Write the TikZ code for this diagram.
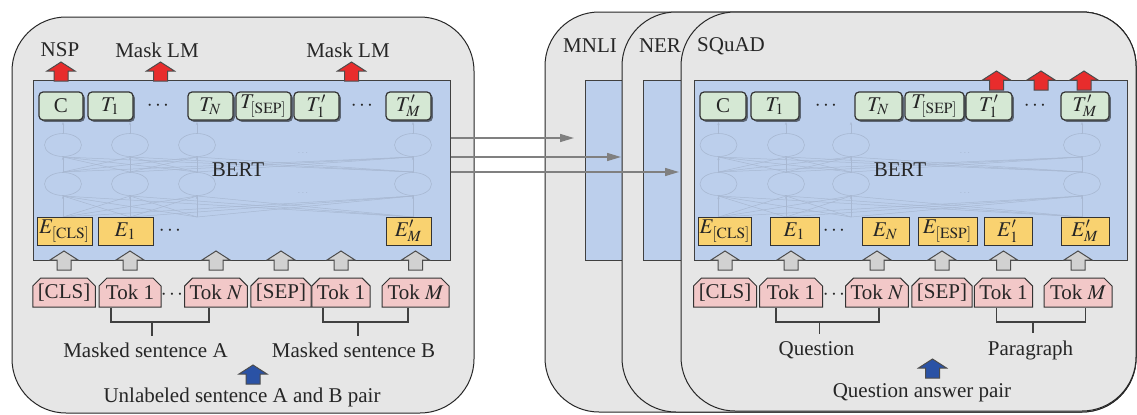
\documentclass[tikz,border=0pt]{standalone}
\usepackage{mathptmx}
\usepackage{fontspec}
\setmainfont{Liberation Serif}
\usetikzlibrary{shapes.misc,shadows,arrows.meta}

\definecolor{panelgray}{RGB}{230,230,230}
\definecolor{bertblue}{RGB}{188,207,236}
\definecolor{outgreen}{RGB}{213,232,212}
\definecolor{embyellow}{RGB}{249,210,112}
\definecolor{tokpink}{RGB}{242,200,200}
\definecolor{headred}{RGB}{232,44,44}
\definecolor{inblue}{RGB}{42,82,165}
\definecolor{netline}{RGB}{168,184,210}

\tikzset{
  panel/.style={draw=black!85, fill=panelgray, line width=0.5pt, rounded corners=27pt},
  bertbox/.style={draw=black!75, fill=bertblue, line width=0.5pt, inner sep=0pt},
  outbox/.style={draw=black!80, fill=outgreen, rounded corners=2pt, line width=0.6pt,
    minimum height=14pt, inner sep=0.5pt,
    drop shadow={shadow xshift=0.9pt, shadow yshift=-0.9pt, fill=black, opacity=0.5}},
  embbox/.style={draw=black!80, fill=embyellow, line width=0.5pt, minimum height=14pt, inner sep=0.5pt},
  tokbox/.style={draw=black!80, fill=tokpink, line width=0.5pt, chamfered rectangle,
    chamfered rectangle corners={north west,north east}, chamfered rectangle xsep=2pt,
    chamfered rectangle ysep=2pt, minimum height=14.5pt, inner sep=0.5pt},
  feed/.style={draw=black!50, line width=0.75pt, -{Triangle[length=7pt,width=4pt]}},
  bracket/.style={draw=black!75, line width=0.6pt},
  neuron/.style={draw=netline, line width=0.3pt},
  wire/.style={draw=netline, line width=0.25pt},
  redup/.style={draw=black!70, fill=headred, line width=0.5pt},
  greyup/.style={draw=black!70, fill=black!18, line width=0.5pt},
  blueup/.style={draw=black!70, fill=inblue, line width=0.5pt},
  blockup/.pic={\path[pic actions] (-7,0) -- (-7,-10) -- (-14,-10) -- (0,-19) -- (14,-10) -- (7,-10) -- (7,0) -- cycle;},
}

% faint transformer layers inside a BERT box
\newcommand{\bertnet}[2]{%
  \foreach \i in {#1}{
    \draw[neuron] (\i,145) ellipse [x radius=9.25pt, y radius=5.75pt];
    \draw[neuron] (\i,184) ellipse [x radius=9.25pt, y radius=5.75pt];
    \draw[wire,-{Stealth[length=1.5pt]}] (\i,217) -- (\i,196);
    \draw[wire,-{Stealth[length=1.5pt]}] (\i,172) -- (\i,157);
    \draw[wire,-{Stealth[length=1.5pt]}] (\i,133) -- (\i,122);
    \foreach \j in {#1}{
      \draw[wire] (\i,172) -- (\j,157);
      \draw[wire] (\i,217) -- (\j,196);
    }
  }
  \node[text=netline, font=\tiny] at (#2,153) {$\cdots$};
  \node[text=netline, font=\tiny] at (#2,193) {$\cdots$};
}

\begin{document}
\begin{tikzpicture}[x=0.5pt,y=-0.5pt,font=\fontsize{10.5}{12}\selectfont,text=black!85]
\useasboundingbox (0,0) rectangle (1137,414);

% pre-training
\draw[panel] (12,17) rectangle (474,413);
\node[bertbox, minimum width=208.5pt, minimum height=90pt] (bertA) at (241.5,170) {};
\bertnet{63,130,197,413}{303}
\node (bertAlbl) at (238,170) {BERT};

\node (nsp) at (60,50) {NSP};
\node (mlmA) at (157,50) {Mask LM};
\node (mlmB) at (348,50) {Mask LM};
\pic[redup] at (61,81) {blockup};
\pic[redup] at (160.5,81) {blockup};
\pic[redup] at (351.5,81) {blockup};

\node[outbox, minimum width=22pt] (cA) at (61,106) {C};
\node[outbox, minimum width=22.5pt] (tA1) at (110.5,106) {$T_1$};
\node (tAdots) at (158,106) {$\cdots$};
\node[outbox, minimum width=22.5pt] (tAN) at (210.5,106) {$T_N$};
\node[outbox, minimum width=27.5pt] (tAsep) at (263.5,106) {$T_{\mathrm{[SEP]}}$};
\node[outbox, minimum width=22.5pt] (tB1) at (316.5,106) {$T_1'$};
\node (tBdots) at (362,106) {$\cdots$};
\node[outbox, minimum width=22.5pt] (tBM) at (408.5,106) {$T_M'$};

\node[embbox, minimum width=27.5pt] (eAcls) at (64.5,231) {$E_{\mathrm{[CLS]}}$};
\node[embbox, minimum width=27.5pt] (eA1) at (125.5,231) {$E_1$};
\node (eAdots) at (170,231) {$\cdots$};
\node[embbox, minimum width=22.5pt] (eBM) at (408.5,231) {$E_M'$};

\node[tokbox, minimum width=31pt] (kAcls) at (64,292.5) {[CLS]};
\node[tokbox, minimum width=31pt] (kA1) at (130,292.5) {Tok 1};
\node (kAdots) at (172,295) {$\cdots$};
\node[tokbox, minimum width=31pt] (kAN) at (216,292.5) {Tok $N$};
\node[tokbox, minimum width=29pt] (kAsep) at (281,292.5) {[SEP]};
\node[tokbox, minimum width=29pt] (kB1) at (341,292.5) {Tok 1};
\node[tokbox, minimum width=33.5pt] (kBM) at (415.5,292.5) {Tok $M$};
\foreach \k in {kAcls,kA1,kAN,kAsep,kB1,kBM}
  \pic[greyup] at (\k.north |- 0,270) {blockup};

\node (sentA) at (145.5,350) {Masked sentence A};
\node (sentB) at (353.5,350) {Masked sentence B};
\draw[bracket] (kA1.south -| 111,0) -- (111,322) -- (209,322) -- (kAN.south -| 209,0);
\draw[bracket] (152,322) -- (sentA.north -| 152,0);
\draw[bracket] (kB1.south -| 323,0) -- (323,322) -- (408,322) -- (kBM.south -| 408,0);
\draw[bracket] (358,322) -- (sentB.north -| 358,0);
\pic[blueup] at (253,384) {blockup};
\node (pairA) at (242,397) {Unlabeled sentence A and B pair};

% fine-tuning
\draw[panel] (545,12) rectangle (1136,412);
\draw[bertbox] (585,80) rectangle (1127,260);
\draw[panel] (622,12) rectangle (1136,412);
\draw[bertbox] (643,80) rectangle (1127,260);
\draw[panel] (681,12) rectangle (1136,411);
\node[bertbox, minimum width=216.25pt, minimum height=90pt] (bertB) at (910.75,170) {};
\bertnet{718.5,786,851,1082}{965}
\node (bertBlbl) at (900,170) {BERT};

\node (mnli) at (590,46) {MNLI};
\node (ner) at (660,46) {NER};
\node (squad) at (731,46) {SQuAD};
\pic[redup] at (996.5,90) {blockup};
\pic[redup] at (1041,90) {blockup};
\pic[redup] at (1084,90) {blockup};

\node[outbox, minimum width=23pt] (cQ) at (723,106) {C};
\node[outbox, minimum width=24pt] (tQ1) at (775,106) {$T_1$};
\node (tQdots) at (826,106) {$\cdots$};
\node[outbox, minimum width=23.5pt] (tQN) at (878.5,106) {$T_N$};
\node[outbox, minimum width=29.5pt] (tQsep) at (934.5,106) {$T_{\mathrm{[SEP]}}$};
\node[outbox, minimum width=23pt] (tP1) at (989,106) {$T_1'$};
\node (tPdots) at (1035,106) {$\cdots$};
\node[outbox, minimum width=24pt] (tPM) at (1085,106) {$T_M'$};

\node[embbox, minimum width=25pt] (eQcls) at (725,231) {$E_{\mathrm{[CLS]}}$};
\node[embbox, minimum width=24.5pt] (eQ1) at (794.5,231) {$E_1$};
\node (eQdots) at (834,231) {$\cdots$};
\node[embbox, minimum width=23.5pt] (eQN) at (885.5,231) {$E_N$};
\node[embbox, minimum width=29.5pt] (eQesp) at (947.5,231) {$E_{\mathrm{[ESP]}}$};
\node[embbox, minimum width=24pt] (eP1) at (1008,231) {$E_1'$};
\node[embbox, minimum width=24pt] (ePM) at (1085,231) {$E_M'$};

\node[tokbox, minimum width=31.5pt] (kQcls) at (725,292.5) {[CLS]};
\node[tokbox, minimum width=31.5pt] (kQ1) at (791,292.5) {Tok 1};
\node (kQdots) at (834,295) {$\cdots$};
\node[tokbox, minimum width=31pt] (kQN) at (877,292.5) {Tok $N$};
\node[tokbox, minimum width=29pt] (kQsep) at (942,292.5) {[SEP]};
\node[tokbox, minimum width=29pt] (kP1) at (1003.5,292.5) {Tok 1};
\node[tokbox, minimum width=34pt] (kPM) at (1078,292.5) {Tok $M$};
\foreach \k in {kQcls,kQ1,kQN,kQsep,kP1,kPM}
  \pic[greyup] at (\k.north |- 0,270) {blockup};

\node (quest) at (816.5,350) {Question};
\node (para) at (1030.5,350) {Paragraph};
\draw[bracket] (kQ1.south -| 776,0) -- (776,322) -- (879,322) -- (kQN.south -| 879,0);
\draw[bracket] (819.5,322) -- (quest.north -| 819.5,0);
\draw[bracket] (kP1.south -| 996.5,0) -- (996.5,322) -- (1085.5,322) -- (kPM.south -| 1085.5,0);
\draw[bracket] (1033,322) -- (para.north -| 1033,0);
\pic[blueup] at (932.5,378) {blockup};
\node (pairQ) at (922,393) {Question answer pair};

% transfer of the pre-trained weights
\coordinate (mnliIn) at (574,138);
\coordinate (nerIn) at (621,157);
\coordinate (squadIn) at (679,172);
\draw[feed] (bertA.east |- mnliIn) -- (mnliIn);
\draw[feed] (bertA.east |- nerIn) -- (nerIn);
\draw[feed] (bertA.east |- squadIn) -- (squadIn);
\end{tikzpicture}
\end{document}
